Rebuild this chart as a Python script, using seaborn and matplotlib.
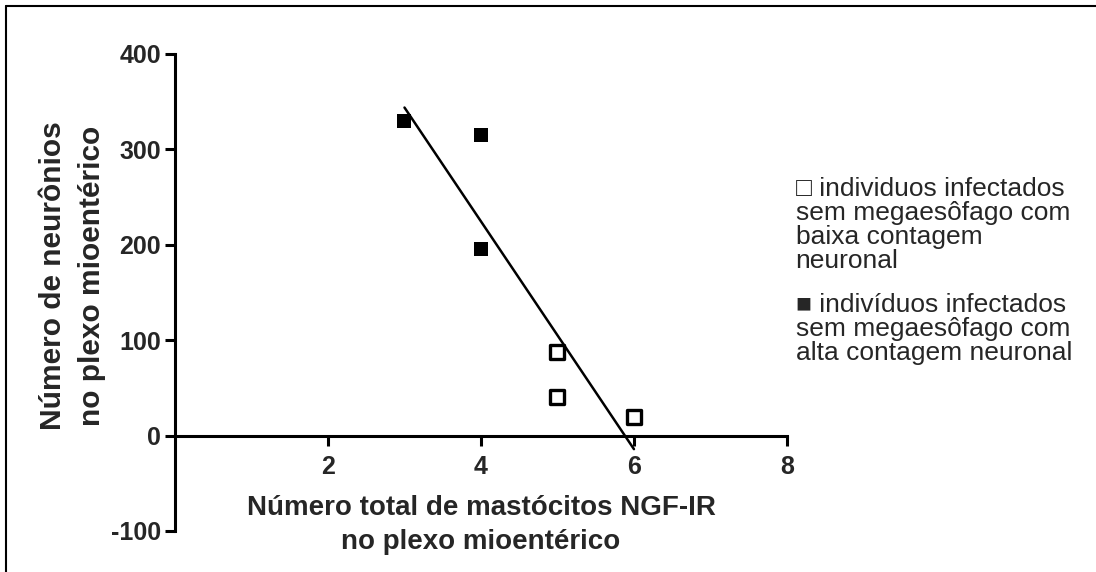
import seaborn as sns
import matplotlib.pyplot as plt
import pandas as pd
from matplotlib.lines import Line2D

# data
mastocitos = [3, 4, 4, 5, 5, 6]
neuronios = [330, 315, 196, 88, 40, 20]
grupo = ["alta", "alta", "alta", "baixa", "baixa", "baixa"]

x_ticks = [2, 4, 6, 8]
y_ticks = [-100, 0, 100, 200, 300, 400]

legenda_baixa = "\u25a1 individuos infectados\nsem megaesôfago com\nbaixa contagem\nneuronal"
legenda_alta = "\u25a0 indivíduos infectados\nsem megaesôfago com\nalta contagem neuronal"

df = pd.DataFrame({"x": mastocitos, "y": neuronios, "grupo": grupo})

sns.set_style("white")
plt.rcParams["font.family"] = ["Liberation Sans", "DejaVu Sans"]
plt.rcParams["axes.unicode_minus"] = False

# make a canvas
fig = plt.figure(figsize=(10.96, 5.72), dpi=100, facecolor="white")
ax = fig.add_axes([0.1597, 0.0717, 0.5583, 0.8339])

# regression line over the data range
sns.regplot(data=df, x="x", y="y", ci=None, scatter=False, truncate=True,
            color="black", line_kws={"linewidth": 1.8}, ax=ax)

# filled squares
sns.scatterplot(data=df[df["grupo"] == "alta"], x="x", y="y", marker="s",
                s=115, color="black", linewidth=0, ax=ax, zorder=3)

# open squares
sns.scatterplot(data=df[df["grupo"] == "baixa"], x="x", y="y", marker="s",
                s=95, facecolor="white", edgecolor="black", linewidth=2.4,
                ax=ax, zorder=3)

# axes limits and spines
ax.set_xlim(0, 8)
ax.set_ylim(-100, 400)
ax.set_xticks(x_ticks)
ax.set_yticks(y_ticks)

ax.spines["top"].set_visible(False)
ax.spines["right"].set_visible(False)
ax.spines["bottom"].set_position(("data", 0))
ax.spines["bottom"].set_bounds(0, 8)
ax.spines["left"].set_bounds(-100, 400)
for side in ["left", "bottom"]:
    ax.spines[side].set_linewidth(2.2)
    ax.spines[side].set_color("black")

ax.tick_params(axis="both", which="major", direction="out", length=7,
               width=2.2, color="black", labelsize=18, pad=3,
               bottom=True, left=True)
ax.tick_params(axis="x", pad=7)
for lab in ax.get_xticklabels() + ax.get_yticklabels():
    lab.set_fontweight("bold")

# labels
ax.set_xlabel("Número total de mastócitos NGF-IR\nno plexo mioentérico",
              fontsize=20, fontweight="bold", linespacing=1.37)
ax.xaxis.set_label_coords(0.5, 0.075)
ax.set_ylabel("Número de neurônios\nno plexo mioentérico",
              fontsize=21.5, fontweight="bold", linespacing=1.5)
ax.yaxis.set_label_coords(-0.113, 0.535)

# legend as text
fig.text(0.726, 0.690, legenda_baixa, fontsize=19, linespacing=1.0,
         va="top", ha="left", family=["Liberation Sans", "DejaVu Sans"])
fig.text(0.726, 0.488, legenda_alta, fontsize=19, linespacing=1.0,
         va="top", ha="left", family=["Liberation Sans", "DejaVu Sans"])

# frame lines on top and left
fig.add_artist(Line2D([0.0055, 0.0055], [0, 0.990], transform=fig.transFigure,
                      color="black", linewidth=1.5))
fig.add_artist(Line2D([0.0055, 1], [0.990, 0.990], transform=fig.transFigure,
                      color="black", linewidth=1.5))

fig.savefig("out.png", dpi=100, facecolor="white")
plt.close("all")
